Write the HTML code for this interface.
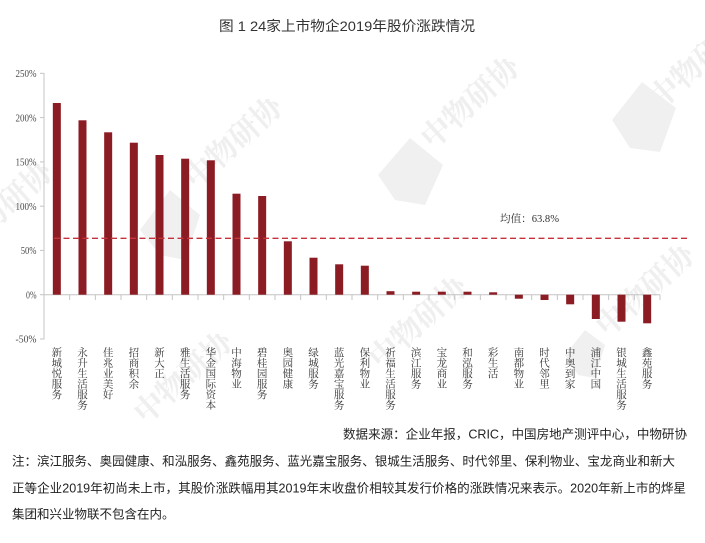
<!DOCTYPE html>
<html>
<head>
<meta charset="utf-8">
<style>
html,body{margin:0;padding:0;background:#fff;}
svg{display:block;}
</style>
</head>
<body>
<svg width="705" height="543" viewBox="0 0 705 543" xmlns="http://www.w3.org/2000/svg">
<rect width="705" height="543" fill="#fff"/>

<!-- watermarks -->
<g fill="#efefef" font-family="'Noto Serif CJK SC', serif" font-weight="bold" font-size="30">
  <text x="240" y="150" text-anchor="middle" transform="rotate(-42 240 150)">中物研协</text>
  <text x="10" y="215" text-anchor="middle" transform="rotate(-42 10 215)">中物研协</text>
  <text x="477" y="110" text-anchor="middle" transform="rotate(-42 477 110)">中物研协</text>
  <text x="705" y="70" text-anchor="middle" transform="rotate(-42 705 70)">中物研协</text>
  <text x="652" y="298" text-anchor="middle" transform="rotate(-42 652 298)">中物研协</text>
  <text x="425" y="330" text-anchor="middle" transform="rotate(-42 425 330)">中物研协</text>
  <text x="190" y="385" text-anchor="middle" transform="rotate(-42 190 385)">中物研协</text>
</g>
<g fill="#f0f0f0">
  <polygon points="140,230 170,190 200,215 185,260 160,255" />
  <polygon points="378,175 410,138 443,165 425,205 395,200" />
  <polygon points="612,120 642,82 676,108 660,152 630,148" />
  <polygon points="565,355 585,330 605,345 595,378 578,375" />
</g>

<!-- axes -->
<line x1="44" y1="73" x2="44" y2="339.5" stroke="#c4c4c4" stroke-width="1"/>
<line x1="44" y1="294.7" x2="660" y2="294.7" stroke="#c4c4c4" stroke-width="1"/>
<g stroke="#c4c4c4" stroke-width="1">
  <line x1="40" y1="73.3" x2="44" y2="73.3"/>
  <line x1="40" y1="117.6" x2="44" y2="117.6"/>
  <line x1="40" y1="161.9" x2="44" y2="161.9"/>
  <line x1="40" y1="206.2" x2="44" y2="206.2"/>
  <line x1="40" y1="250.4" x2="44" y2="250.4"/>
  <line x1="40" y1="294.7" x2="44" y2="294.7"/>
  <line x1="40" y1="339" x2="44" y2="339"/>
</g>
<g stroke="#c4c4c4" stroke-width="1">
  <line x1="69.67" y1="294.7" x2="69.67" y2="300"/>
  <line x1="95.33" y1="294.7" x2="95.33" y2="300"/>
  <line x1="121" y1="294.7" x2="121" y2="300"/>
  <line x1="146.67" y1="294.7" x2="146.67" y2="300"/>
  <line x1="172.33" y1="294.7" x2="172.33" y2="300"/>
  <line x1="198" y1="294.7" x2="198" y2="300"/>
  <line x1="223.67" y1="294.7" x2="223.67" y2="300"/>
  <line x1="249.33" y1="294.7" x2="249.33" y2="300"/>
  <line x1="275" y1="294.7" x2="275" y2="300"/>
  <line x1="300.67" y1="294.7" x2="300.67" y2="300"/>
  <line x1="326.33" y1="294.7" x2="326.33" y2="300"/>
  <line x1="352" y1="294.7" x2="352" y2="300"/>
  <line x1="377.67" y1="294.7" x2="377.67" y2="300"/>
  <line x1="403.33" y1="294.7" x2="403.33" y2="300"/>
  <line x1="429" y1="294.7" x2="429" y2="300"/>
  <line x1="454.67" y1="294.7" x2="454.67" y2="300"/>
  <line x1="480.33" y1="294.7" x2="480.33" y2="300"/>
  <line x1="506" y1="294.7" x2="506" y2="300"/>
  <line x1="531.67" y1="294.7" x2="531.67" y2="300"/>
  <line x1="557.33" y1="294.7" x2="557.33" y2="300"/>
  <line x1="583" y1="294.7" x2="583" y2="300"/>
  <line x1="608.67" y1="294.7" x2="608.67" y2="300"/>
  <line x1="634.33" y1="294.7" x2="634.33" y2="300"/>
  <line x1="660" y1="294.7" x2="660" y2="300"/>
</g>

<!-- y tick labels -->
<g font-family="'Liberation Serif', serif" font-size="10.5" fill="#4a4a4a" text-anchor="end" lengthAdjust="spacingAndGlyphs">
  <text x="36.5" y="77" textLength="21" lengthAdjust="spacingAndGlyphs">250%</text>
  <text x="36.5" y="121.3" textLength="21" lengthAdjust="spacingAndGlyphs">200%</text>
  <text x="36.5" y="165.6" textLength="21" lengthAdjust="spacingAndGlyphs">150%</text>
  <text x="36.5" y="209.9" textLength="21" lengthAdjust="spacingAndGlyphs">100%</text>
  <text x="36.5" y="254.1" textLength="15.8" lengthAdjust="spacingAndGlyphs">50%</text>
  <text x="36.5" y="298.4" textLength="10.5" lengthAdjust="spacingAndGlyphs">0%</text>
  <text x="36.5" y="342.7" textLength="21" lengthAdjust="spacingAndGlyphs">-50%</text>
</g>

<!-- bars -->
<g fill="#8c1c24">
  <rect x="52.83" y="103" width="8" height="191.7"/>
  <rect x="78.5" y="120.3" width="8" height="174.4"/>
  <rect x="104.17" y="132.3" width="8" height="162.4"/>
  <rect x="129.83" y="142.7" width="8" height="152"/>
  <rect x="155.5" y="155" width="8" height="139.7"/>
  <rect x="181.17" y="158.7" width="8" height="136"/>
  <rect x="206.83" y="160.3" width="8" height="134.4"/>
  <rect x="232.5" y="193.7" width="8" height="101"/>
  <rect x="258.17" y="196" width="8" height="98.7"/>
  <rect x="283.83" y="241.3" width="8" height="53.4"/>
  <rect x="309.5" y="257.7" width="8" height="37"/>
  <rect x="335.17" y="264.3" width="8" height="30.4"/>
  <rect x="360.83" y="265.7" width="8" height="29"/>
  <rect x="386.5" y="291.2" width="8" height="3.5"/>
  <rect x="412.17" y="291.7" width="8" height="3"/>
  <rect x="437.83" y="291.7" width="8" height="3"/>
  <rect x="463.5" y="291.7" width="8" height="3"/>
  <rect x="489.17" y="292.3" width="8" height="2.4"/>
  <rect x="514.83" y="294.7" width="8" height="4"/>
  <rect x="540.5" y="294.7" width="8" height="5.3"/>
  <rect x="566.17" y="294.7" width="8" height="9.6"/>
  <rect x="591.83" y="294.7" width="8" height="24.3"/>
  <rect x="617.5" y="294.7" width="8" height="27"/>
  <rect x="643.17" y="294.7" width="8" height="28.6"/>
</g>

<!-- mean line -->
<line x1="54" y1="238.3" x2="688" y2="238.3" stroke="#c5323b" stroke-width="1.3" stroke-dasharray="6 3.5"/>
<text x="500" y="222" font-family="'Liberation Serif', 'Noto Serif CJK SC', serif" font-size="10.5" fill="#333" textLength="59" lengthAdjust="spacingAndGlyphs">均值：63.8%</text>

<!-- category labels (vertical) -->
<g font-family="'Noto Serif CJK SC', serif" font-size="10.5" fill="#333" text-anchor="middle">
  <text x="56.83" y="356"><tspan x="56.83" dy="0">新</tspan><tspan x="56.83" dy="10.5">城</tspan><tspan x="56.83" dy="10.5">悦</tspan><tspan x="56.83" dy="10.5">服</tspan><tspan x="56.83" dy="10.5">务</tspan></text>
  <text x="82.5" y="356"><tspan x="82.5" dy="0">永</tspan><tspan x="82.5" dy="10.5">升</tspan><tspan x="82.5" dy="10.5">生</tspan><tspan x="82.5" dy="10.5">活</tspan><tspan x="82.5" dy="10.5">服</tspan><tspan x="82.5" dy="10.5">务</tspan></text>
  <text x="108.17" y="356"><tspan x="108.17" dy="0">佳</tspan><tspan x="108.17" dy="10.5">兆</tspan><tspan x="108.17" dy="10.5">业</tspan><tspan x="108.17" dy="10.5">美</tspan><tspan x="108.17" dy="10.5">好</tspan></text>
  <text x="133.83" y="356"><tspan x="133.83" dy="0">招</tspan><tspan x="133.83" dy="10.5">商</tspan><tspan x="133.83" dy="10.5">积</tspan><tspan x="133.83" dy="10.5">余</tspan></text>
  <text x="159.5" y="356"><tspan x="159.5" dy="0">新</tspan><tspan x="159.5" dy="10.5">大</tspan><tspan x="159.5" dy="10.5">正</tspan></text>
  <text x="185.17" y="356"><tspan x="185.17" dy="0">雅</tspan><tspan x="185.17" dy="10.5">生</tspan><tspan x="185.17" dy="10.5">活</tspan><tspan x="185.17" dy="10.5">服</tspan><tspan x="185.17" dy="10.5">务</tspan></text>
  <text x="210.83" y="356"><tspan x="210.83" dy="0">华</tspan><tspan x="210.83" dy="10.5">金</tspan><tspan x="210.83" dy="10.5">国</tspan><tspan x="210.83" dy="10.5">际</tspan><tspan x="210.83" dy="10.5">资</tspan><tspan x="210.83" dy="10.5">本</tspan></text>
  <text x="236.5" y="356"><tspan x="236.5" dy="0">中</tspan><tspan x="236.5" dy="10.5">海</tspan><tspan x="236.5" dy="10.5">物</tspan><tspan x="236.5" dy="10.5">业</tspan></text>
  <text x="262.17" y="356"><tspan x="262.17" dy="0">碧</tspan><tspan x="262.17" dy="10.5">桂</tspan><tspan x="262.17" dy="10.5">园</tspan><tspan x="262.17" dy="10.5">服</tspan><tspan x="262.17" dy="10.5">务</tspan></text>
  <text x="287.83" y="356"><tspan x="287.83" dy="0">奥</tspan><tspan x="287.83" dy="10.5">园</tspan><tspan x="287.83" dy="10.5">健</tspan><tspan x="287.83" dy="10.5">康</tspan></text>
  <text x="313.5" y="356"><tspan x="313.5" dy="0">绿</tspan><tspan x="313.5" dy="10.5">城</tspan><tspan x="313.5" dy="10.5">服</tspan><tspan x="313.5" dy="10.5">务</tspan></text>
  <text x="339.17" y="356"><tspan x="339.17" dy="0">蓝</tspan><tspan x="339.17" dy="10.5">光</tspan><tspan x="339.17" dy="10.5">嘉</tspan><tspan x="339.17" dy="10.5">宝</tspan><tspan x="339.17" dy="10.5">服</tspan><tspan x="339.17" dy="10.5">务</tspan></text>
  <text x="364.83" y="356"><tspan x="364.83" dy="0">保</tspan><tspan x="364.83" dy="10.5">利</tspan><tspan x="364.83" dy="10.5">物</tspan><tspan x="364.83" dy="10.5">业</tspan></text>
  <text x="390.5" y="356"><tspan x="390.5" dy="0">祈</tspan><tspan x="390.5" dy="10.5">福</tspan><tspan x="390.5" dy="10.5">生</tspan><tspan x="390.5" dy="10.5">活</tspan><tspan x="390.5" dy="10.5">服</tspan><tspan x="390.5" dy="10.5">务</tspan></text>
  <text x="416.17" y="356"><tspan x="416.17" dy="0">滨</tspan><tspan x="416.17" dy="10.5">江</tspan><tspan x="416.17" dy="10.5">服</tspan><tspan x="416.17" dy="10.5">务</tspan></text>
  <text x="441.83" y="356"><tspan x="441.83" dy="0">宝</tspan><tspan x="441.83" dy="10.5">龙</tspan><tspan x="441.83" dy="10.5">商</tspan><tspan x="441.83" dy="10.5">业</tspan></text>
  <text x="467.5" y="356"><tspan x="467.5" dy="0">和</tspan><tspan x="467.5" dy="10.5">泓</tspan><tspan x="467.5" dy="10.5">服</tspan><tspan x="467.5" dy="10.5">务</tspan></text>
  <text x="493.17" y="356"><tspan x="493.17" dy="0">彩</tspan><tspan x="493.17" dy="10.5">生</tspan><tspan x="493.17" dy="10.5">活</tspan></text>
  <text x="518.83" y="356"><tspan x="518.83" dy="0">南</tspan><tspan x="518.83" dy="10.5">都</tspan><tspan x="518.83" dy="10.5">物</tspan><tspan x="518.83" dy="10.5">业</tspan></text>
  <text x="544.5" y="356"><tspan x="544.5" dy="0">时</tspan><tspan x="544.5" dy="10.5">代</tspan><tspan x="544.5" dy="10.5">邻</tspan><tspan x="544.5" dy="10.5">里</tspan></text>
  <text x="570.17" y="356"><tspan x="570.17" dy="0">中</tspan><tspan x="570.17" dy="10.5">奥</tspan><tspan x="570.17" dy="10.5">到</tspan><tspan x="570.17" dy="10.5">家</tspan></text>
  <text x="595.83" y="356"><tspan x="595.83" dy="0">浦</tspan><tspan x="595.83" dy="10.5">江</tspan><tspan x="595.83" dy="10.5">中</tspan><tspan x="595.83" dy="10.5">国</tspan></text>
  <text x="621.5" y="356"><tspan x="621.5" dy="0">银</tspan><tspan x="621.5" dy="10.5">城</tspan><tspan x="621.5" dy="10.5">生</tspan><tspan x="621.5" dy="10.5">活</tspan><tspan x="621.5" dy="10.5">服</tspan><tspan x="621.5" dy="10.5">务</tspan></text>
  <text x="647.17" y="356"><tspan x="647.17" dy="0">鑫</tspan><tspan x="647.17" dy="10.5">苑</tspan><tspan x="647.17" dy="10.5">服</tspan><tspan x="647.17" dy="10.5">务</tspan></text>
</g>

<!-- title -->
<text x="219" y="31" font-family="'Liberation Sans', 'Noto Sans CJK SC', sans-serif" font-size="14" fill="#333" textLength="256" lengthAdjust="spacingAndGlyphs">图 1 24家上市物企2019年股价涨跌情况</text>

<!-- footer -->
<g font-family="'Liberation Sans', 'Noto Sans CJK SC', sans-serif" font-size="12.5" fill="#222">
  <text x="343" y="438.7" textLength="344" lengthAdjust="spacingAndGlyphs">数据来源：企业年报，CRIC，中国房地产测评中心，中物研协</text>
  <text x="12" y="465.7" textLength="663" lengthAdjust="spacingAndGlyphs">注：滨江服务、奥园健康、和泓服务、鑫苑服务、蓝光嘉宝服务、银城生活服务、时代邻里、保利物业、宝龙商业和新大</text>
  <text x="12" y="492.7" textLength="674" lengthAdjust="spacingAndGlyphs">正等企业2019年初尚未上市，其股价涨跌幅用其2019年末收盘价相较其发行价格的涨跌情况来表示。2020年新上市的烨星</text>
  <text x="12" y="518.7">集团和兴业物联不包含在内。</text>
</g>
</svg>
</body>
</html>
